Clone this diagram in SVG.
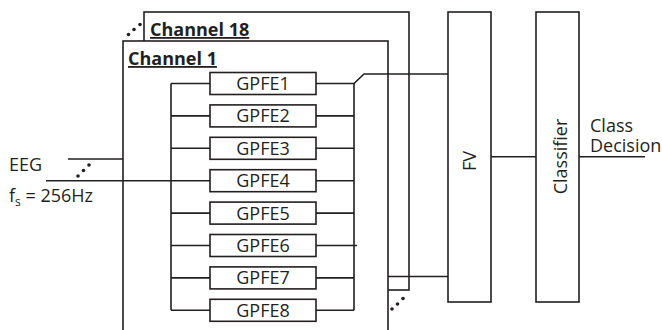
<svg xmlns="http://www.w3.org/2000/svg" width="662" height="330" viewBox="0 0 662 330">
<style>
.ln{stroke:#231f20;stroke-width:1.6;fill:none}
.bx{stroke:#231f20;stroke-width:1.6;fill:#fff}
.t{font-family:"Open Sans","Liberation Sans",sans-serif;font-size:18px;fill:#231f20}
.tb{font-family:"Open Sans","Liberation Sans",sans-serif;font-size:18px;font-weight:bold;fill:#231f20;text-decoration:underline}
.c{text-anchor:middle}
.dot{fill:#231f20}
</style>
<rect width="662" height="330" fill="#fff"/>
<g id="channel18">
<rect class="bx" x="144" y="12" width="265" height="278"/>
<text class="tb" x="150" y="36">Channel 18</text>
<circle class="dot" cx="128.5" cy="34.5" r="1.8"/><circle class="dot" cx="134" cy="29.5" r="1.8"/><circle class="dot" cx="140" cy="24.5" r="1.8"/>
</g>
<g id="channel1">
<rect class="bx" x="123" y="41" width="265" height="300"/>
<text class="tb" x="128" y="65">Channel 1</text>
</g>
<g id="connectors">
<path class="ln" d="M171 83.5V310.3M354 83.5V310.3"/>
<path class="ln" d="M171 83.5H210M171 115.9H210M171 148.3H210M171 213.1H210M171 245.5H210M171 277.9H210M171 310.3H210"/>
<path class="ln" d="M316 83.5H354L364 74H448M316 115.9H354M316 148.3H354M316 180.7H354M316 213.1H354M316 245.5H357M316 277.9H354M316 310.3H354"/>
<path class="ln" d="M388 276.5H448"/>
<path class="ln" d="M68 159H123M46 180.7H210"/>
<path class="ln" d="M491 156.7H536M579 156.7H645"/>
<circle class="dot" cx="78" cy="176" r="1.8"/><circle class="dot" cx="83.5" cy="170.5" r="1.8"/><circle class="dot" cx="89" cy="165" r="1.8"/>
<circle class="dot" cx="392" cy="309" r="1.8"/><circle class="dot" cx="397.5" cy="304" r="1.8"/><circle class="dot" cx="403" cy="298.5" r="1.8"/>
</g>
<g id="gpfe1"><rect class="bx" x="210" y="72.5" width="106" height="22"/><text class="t c" x="263" y="90">GPFE1</text></g>
<g id="gpfe2"><rect class="bx" x="210" y="104.9" width="106" height="22"/><text class="t c" x="263" y="122.4">GPFE2</text></g>
<g id="gpfe3"><rect class="bx" x="210" y="137.3" width="106" height="22"/><text class="t c" x="263" y="154.8">GPFE3</text></g>
<g id="gpfe4"><rect class="bx" x="210" y="169.7" width="106" height="22"/><text class="t c" x="263" y="187.2">GPFE4</text></g>
<g id="gpfe5"><rect class="bx" x="210" y="202.1" width="106" height="22"/><text class="t c" x="263" y="219.6">GPFE5</text></g>
<g id="gpfe6"><rect class="bx" x="210" y="234.5" width="106" height="22"/><text class="t c" x="263" y="252">GPFE6</text></g>
<g id="gpfe7"><rect class="bx" x="210" y="266.9" width="106" height="22"/><text class="t c" x="263" y="284.4">GPFE7</text></g>
<g id="gpfe8"><rect class="bx" x="210" y="299.3" width="106" height="22"/><text class="t c" x="263" y="316.8">GPFE8</text></g>
<g id="fv"><rect class="bx" x="448" y="12" width="43" height="290"/><text class="t c" transform="translate(476 161) rotate(-90)">FV</text></g>
<g id="classifier"><rect class="bx" x="536" y="12" width="43" height="290"/><text class="t c" transform="translate(567 156.5) rotate(-90)">Classifier</text></g>
<g id="labels">
<text class="t" x="9" y="171">EEG</text>
<text class="t" x="9" y="202">f<tspan font-size="12" dy="4">s</tspan><tspan dy="-4"> = 256Hz</tspan></text>
<text class="t" x="590" y="132">Class<tspan x="590" dy="20">Decision</tspan></text>
</g>
</svg>
